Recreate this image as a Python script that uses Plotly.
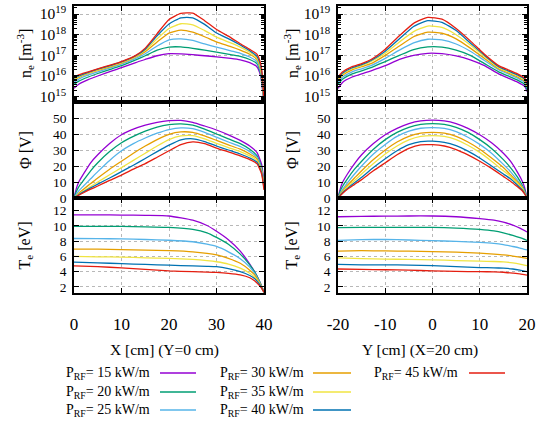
import plotly.graph_objects as go

# ---------------- data ----------------
power_labels = ["15", "20", "25", "30", "35", "40", "45"]
colors = ["#9400d3", "#009e73", "#56b4e9", "#e69f00", "#f0e442", "#0072b2", "#e51e10"]

# n_e vs X (log10 of m^-3)
x_ne = [0, 1, 3, 5, 8, 10, 13, 15, 17.5, 20, 22.5, 25, 27.5, 30, 33, 35, 37, 38.5, 39.3, 39.7, 40]
ne_x_log10 = {
    "15": [15.4, 15.6, 15.82, 16.0, 16.25, 16.4, 16.65, 16.8, 16.98, 17.08, 17.07, 17.03, 16.98, 16.93, 16.85, 16.78, 16.65, 16.45, 16.0, 15.3, 14.8],
    "20": [15.6, 15.75, 15.95, 16.12, 16.35, 16.5, 16.78, 16.98, 17.25, 17.4, 17.41, 17.34, 17.25, 17.16, 17.03, 16.95, 16.8, 16.6, 16.1, 15.4, 14.8],
    "25": [15.7, 15.85, 16.05, 16.2, 16.42, 16.57, 16.85, 17.08, 17.45, 17.75, 17.8, 17.72, 17.55, 17.4, 17.22, 17.1, 16.92, 16.7, 16.2, 15.5, 14.8],
    "30": [15.8, 15.93, 16.12, 16.27, 16.47, 16.62, 16.92, 17.18, 17.65, 18.08, 18.22, 18.12, 17.9, 17.65, 17.42, 17.25, 17.05, 16.8, 16.3, 15.6, 14.8],
    "35": [15.85, 15.97, 16.15, 16.3, 16.5, 16.65, 16.95, 17.25, 17.8, 18.3, 18.53, 18.48, 18.2, 17.88, 17.6, 17.4, 17.15, 16.88, 16.4, 15.7, 14.8],
    "40": [15.9, 16.0, 16.18, 16.33, 16.53, 16.68, 16.98, 17.3, 17.95, 18.52, 18.82, 18.82, 18.5, 18.08, 17.75, 17.5, 17.22, 16.95, 16.5, 15.8, 14.8],
    "45": [15.95, 16.05, 16.2, 16.35, 16.55, 16.7, 17.0, 17.35, 18.05, 18.74, 19.03, 19.05, 18.68, 18.25, 17.86, 17.56, 17.29, 17.06, 16.6, 15.9, 14.8],
}

# n_e vs Y
y_ne = [-20, -19, -17, -15, -13, -10, -7, -4, -1, 2, 5, 8, 11, 14, 16, 18, 19.5, 20]
ne_y_log10 = {
    "15": [15.4, 15.7, 15.95, 16.1, 16.25, 16.5, 16.8, 17.0, 17.1, 17.08, 16.97, 16.78, 16.5, 16.1, 15.9, 15.7, 15.5, 15.25],
    "20": [15.6, 15.85, 16.1, 16.25, 16.4, 16.7, 17.0, 17.28, 17.41, 17.4, 17.25, 17.0, 16.6, 16.2, 16.0, 15.8, 15.6, 15.35],
    "25": [15.7, 15.95, 16.2, 16.35, 16.5, 16.85, 17.25, 17.6, 17.78, 17.75, 17.55, 17.2, 16.75, 16.3, 16.1, 15.9, 15.7, 15.45],
    "30": [15.8, 16.05, 16.3, 16.45, 16.6, 17.0, 17.45, 17.9, 18.12, 18.07, 17.8, 17.35, 16.85, 16.35, 16.15, 15.95, 15.75, 15.5],
    "35": [15.85, 16.1, 16.35, 16.5, 16.7, 17.1, 17.65, 18.15, 18.42, 18.35, 18.0, 17.5, 16.95, 16.4, 16.2, 16.0, 15.8, 15.55],
    "40": [15.9, 16.15, 16.4, 16.55, 16.75, 17.2, 17.8, 18.4, 18.68, 18.6, 18.2, 17.6, 17.0, 16.45, 16.25, 16.05, 15.85, 15.6],
    "45": [15.95, 16.2, 16.45, 16.6, 16.8, 17.3, 17.95, 18.55, 18.84, 18.75, 18.3, 17.7, 17.05, 16.5, 16.3, 16.1, 15.9, 15.65],
}

# Phi vs X (V)
x_phi = [0, 0.5, 1, 2, 3.5, 5, 7.5, 10, 12.5, 15, 17.5, 20, 22.5, 25, 27.5, 30, 32.5, 35, 37, 38.5, 39.5, 40]
phi_x = {
    "15": [0, 6, 10, 15, 22, 27, 34, 39.5, 43, 45.5, 47.3, 48.3, 48.5, 47.3, 45, 42.5, 39.5, 36, 32.5, 28.5, 21, 9],
    "20": [0, 4, 7, 11, 17, 22, 29, 34.5, 38.5, 41.8, 44.3, 45.8, 46.3, 45.5, 43, 40, 37, 34, 30.5, 26.5, 19, 8],
    "25": [0, 2.5, 4.5, 7.5, 12, 16.5, 23.5, 29.5, 34, 37.5, 40.5, 42.8, 43.8, 43.3, 41, 38, 35, 32.2, 29, 25.5, 18, 7.5],
    "30": [0, 1.5, 3, 5.5, 9, 12.5, 18, 23, 28, 32.5, 36.5, 39.8, 41.3, 41, 38.8, 36, 33.2, 30.5, 27.5, 24.5, 17, 7],
    "35": [0, 1.2, 2.3, 4.3, 7.2, 10, 14.5, 19, 23.5, 28, 32.5, 36.5, 38.8, 39, 37, 34.2, 31.5, 29, 26.3, 23.5, 16.5, 6.5],
    "40": [0, 1, 2, 3.8, 6.3, 8.7, 12.5, 16.5, 20.5, 24.7, 29, 33, 36.3, 37, 35.3, 32.5, 30, 27.5, 25, 22.5, 16, 6],
    "45": [0, 0.8, 1.7, 3.3, 5.5, 7.5, 11, 14.3, 18, 21.5, 25.5, 29.5, 33.3, 35.1, 34, 31.2, 28.8, 26.3, 24, 21.5, 15, 5],
}

# Phi vs Y (V)
y_phi = [-20, -19.5, -19, -18, -16.5, -15, -12.5, -10, -7.5, -5, -2.5, 0, 2.5, 5, 7.5, 10, 12.5, 15, 16.5, 18, 19, 19.5, 20]
phi_y = {
    "15": [0, 6, 10, 15, 21.5, 27, 34, 39.5, 43.5, 46.5, 48.2, 48.7, 48.2, 46.5, 43.5, 39.5, 34.5, 28, 23, 16, 10.5, 6.5, 0],
    "20": [0, 4.5, 7.5, 12, 18, 23, 30.5, 36.5, 41, 44.2, 46, 46.5, 46, 44.2, 41, 36.5, 31, 24, 19, 13, 8, 5, 0],
    "25": [0, 3, 5.5, 9.5, 15, 20, 27.5, 33.5, 38.5, 41.8, 43.6, 44, 43.5, 41.5, 38, 33.5, 28, 21, 16.5, 11, 7, 4, 0],
    "30": [0, 2.5, 4.5, 8, 12.5, 17, 24, 30, 35, 38.5, 40.5, 41, 40.5, 38.5, 35, 30.5, 25, 19, 14.5, 10, 6.5, 3.5, 0],
    "35": [0, 2, 4, 7, 11, 15, 21.5, 27.5, 32.5, 36.3, 38.5, 39, 38.5, 36.5, 33, 28.5, 23, 17, 13.5, 9, 6, 3, 0],
    "40": [0, 1.8, 3.5, 6, 9.5, 13, 19, 24.5, 29.5, 33.3, 35.3, 35.5, 34.8, 32.7, 29.3, 25, 20, 15, 12, 8, 5, 2.8, 0],
    "45": [0, 1.5, 3, 5.5, 8.5, 11.5, 17, 22, 27, 31, 33.2, 33.3, 32.5, 30.3, 27, 23, 18.5, 13.5, 10.5, 7, 4.5, 2.5, 0],
}

# Te vs X (eV)
x_te = [0, 5, 10, 15, 20, 25, 28, 30, 32.5, 35, 37, 38, 39, 39.5, 40]
te_x = {
    "15": [11.45, 11.45, 11.42, 11.38, 11.3, 10.75, 10.05, 9.3, 8.2, 6.7, 5.0, 4.0, 2.8, 2.1, 1.3],
    "20": [9.95, 9.95, 9.93, 9.88, 9.8, 9.55, 9.1, 8.5, 7.6, 6.3, 4.9, 4.0, 2.8, 2.1, 1.3],
    "25": [8.35, 8.33, 8.3, 8.22, 8.12, 7.92, 7.6, 7.3, 6.6, 5.7, 4.6, 3.8, 2.7, 2.0, 1.3],
    "30": [6.95, 6.95, 6.9, 6.83, 6.75, 6.6, 6.4, 6.2, 5.75, 5.1, 4.2, 3.6, 2.6, 2.0, 1.3],
    "35": [6.0, 5.95, 5.9, 5.82, 5.75, 5.6, 5.45, 5.3, 5.0, 4.45, 3.8, 3.3, 2.5, 1.9, 1.3],
    "40": [5.25, 5.15, 5.05, 4.95, 4.85, 4.75, 4.7, 4.65, 4.4, 4.0, 3.5, 3.1, 2.4, 1.9, 1.3],
    "45": [4.75, 4.65, 4.5, 4.3, 4.1, 4.0, 3.95, 3.9, 3.78, 3.57, 3.2, 2.8, 2.2, 1.8, 1.3],
}

# Te vs Y (eV)
y_te = [-20, -15, -10, -5, 0, 5, 10, 13, 15, 17, 18.5, 20]
te_y = {
    "15": [11.2, 11.25, 11.28, 11.3, 11.3, 11.2, 10.95, 10.75, 10.5, 10.1, 9.7, 9.2],
    "20": [9.77, 9.8, 9.8, 9.8, 9.8, 9.72, 9.55, 9.35, 9.1, 8.75, 8.45, 8.1],
    "25": [8.1, 8.2, 8.22, 8.15, 8.07, 7.97, 7.85, 7.72, 7.55, 7.3, 7.1, 6.85],
    "30": [6.7, 6.75, 6.72, 6.68, 6.63, 6.55, 6.42, 6.3, 6.2, 6.05, 5.9, 5.75],
    "35": [5.8, 5.72, 5.65, 5.6, 5.55, 5.45, 5.38, 5.33, 5.28, 5.15, 5.0, 4.8],
    "40": [4.95, 4.9, 4.9, 4.85, 4.78, 4.65, 4.53, 4.5, 4.45, 4.35, 4.2, 4.0],
    "45": [4.35, 4.3, 4.25, 4.2, 4.1, 4.03, 4.0, 3.97, 3.92, 3.8, 3.7, 3.55],
}

x_ticks = [0, 10, 20, 30, 40]
x_ticktext = ["0", "10", "20", "30", "40"]
y_ticks_pos = [-20, -10, 0, 10, 20]
y_ticktext = ["-20", "-10", "0", "10", "20"]
phi_ticks = [0, 10, 20, 30, 40, 50]
te_ticks = [2, 4, 6, 8, 10, 12]
ne_ticks_exp = [15, 16, 17, 18, 19]

# ---------------- figure ----------------
W, H = 538, 421
FONT = "Liberation Serif, Times New Roman, DejaVu Serif, serif"

def px_x(p):
    return p / W

def px_y(p):
    return 1 - p / H

fig = go.Figure()

panels = [
    ("x", "y", x_ne, ne_x_log10, True),
    ("x2", "y2", y_ne, ne_y_log10, True),
    ("x3", "y3", x_phi, phi_x, False),
    ("x4", "y4", y_phi, phi_y, False),
    ("x5", "y5", x_te, te_x, False),
    ("x6", "y6", y_te, te_y, False),
]
for xa, ya, xs, data, is_log in panels:
    for lab, col in zip(power_labels, colors):
        vals = data[lab]
        if is_log:
            vals = [10.0 ** v for v in vals]
        fig.add_trace(go.Scatter(
            x=xs, y=vals, mode="lines", xaxis=xa, yaxis=ya,
            line=dict(color=col, width=1.3, shape="spline", smoothing=0.5),
            showlegend=False, hoverinfo="skip"))

xL = [px_x(74), px_x(264)]
xR = [px_x(338), px_x(527)]
yT = [px_y(102), px_y(6)]
yM = [px_y(198), px_y(102)]
yB = [px_y(293), px_y(198)]

common = dict(showline=True, linecolor="black", linewidth=1.6, mirror="allticks",
              ticks="inside", ticklen=5, tickwidth=1, tickcolor="black",
              showgrid=True, gridcolor="#b8b8b8", griddash="dot", gridwidth=1,
              zeroline=False, automargin=False,
              tickfont=dict(family=FONT, size=13.5, color="black"))

def xax(dom, anchor, vals, text, labels):
    d = dict(common)
    d.update(domain=dom, anchor=anchor, tickmode="array", tickvals=vals, ticktext=text,
             range=[vals[0], vals[-1]])
    if labels:
        d.update(showticklabels=True, tickfont=dict(family=FONT, size=17, color="black"),
                 ticklabelstandoff=15)
    else:
        d.update(showticklabels=False)
    return d

def yax(dom, anchor, **kw):
    d = dict(common)
    d.update(domain=dom, anchor=anchor, ticklabelstandoff=3)
    d.update(kw)
    return d

ne_axis = dict(type="log", range=[14.74, 19.39], tickmode="array",
               tickvals=[10.0 ** e for e in ne_ticks_exp],
               ticktext=[f"10<sup>{e}</sup>" for e in ne_ticks_exp],
               tickfont=dict(family=FONT, size=15.5, color="black"),
               minor=dict(ticks="inside", ticklen=3, tickcolor="black",
                          tickvals=[m * 10.0 ** e for e in range(14, 20) for m in range(2, 10)],
                          showgrid=False))
phi_axis = dict(range=[0, 60], tickmode="array", tickvals=phi_ticks)
te_axis = dict(range=[1.2, 13.66], tickmode="array", tickvals=te_ticks)

fig.update_layout(
    width=W, height=H, margin=dict(l=0, r=0, t=0, b=0, autoexpand=False),
    paper_bgcolor="white", plot_bgcolor="white", showlegend=False,
    font=dict(family=FONT, color="black"),
    xaxis=xax(xL, "y", x_ticks, x_ticktext, False),
    xaxis2=xax(xR, "y2", y_ticks_pos, y_ticktext, False),
    xaxis3=xax(xL, "y3", x_ticks, x_ticktext, False),
    xaxis4=xax(xR, "y4", y_ticks_pos, y_ticktext, False),
    xaxis5=xax(xL, "y5", x_ticks, x_ticktext, True),
    xaxis6=xax(xR, "y6", y_ticks_pos, y_ticktext, True),
    yaxis=yax(yT, "x", **ne_axis),
    yaxis2=yax(yT, "x2", **ne_axis),
    yaxis3=yax(yM, "x3", **phi_axis),
    yaxis4=yax(yM, "x4", **phi_axis),
    yaxis5=yax(yB, "x5", **te_axis),
    yaxis6=yax(yB, "x6", **te_axis),
)

ann = []
ytitles = ["n<sub>e</sub> [m<sup>-3</sup>]", "Φ [V]", "T<sub>e</sub> [eV]"]
ycent = [54, 150, 245.5]
for t, yc in zip(ytitles, ycent):
    for xc in (25, 292):
        ann.append(dict(text=t, x=px_x(xc), y=px_y(yc), xref="paper", yref="paper",
                        textangle=-90, showarrow=False, xanchor="center", yanchor="middle",
                        font=dict(family=FONT, size=16, color="black")))
ann.append(dict(text="X [cm] (Y=0 cm)", x=px_x(164), y=px_y(350), xref="paper", yref="paper",
                showarrow=False, xanchor="center", yanchor="middle",
                font=dict(family=FONT, size=15.5, color="black")))
ann.append(dict(text="Y [cm] (X=20 cm)", x=px_x(420), y=px_y(350), xref="paper", yref="paper",
                showarrow=False, xanchor="center", yanchor="middle",
                font=dict(family=FONT, size=15.5, color="black")))

# legend (text followed by a line sample), 3 columns
col_text_right = [152, 306, 460]
col_line = [(160, 196), (313, 351), (469, 505)]
row_y = [373, 392, 410]
shapes = []
for i, (lab, col) in enumerate(zip(power_labels, colors)):
    c, r = divmod(i, 3)
    yy = px_y(row_y[r])
    ann.append(dict(text=f"P<sub>RF</sub>= {lab} kW/m", x=px_x(col_text_right[c]), y=yy,
                    xref="paper", yref="paper", showarrow=False, xanchor="right",
                    yanchor="middle", font=dict(family=FONT, size=14, color="black")))
    shapes.append(dict(type="line", xref="paper", yref="paper",
                       x0=px_x(col_line[c][0]), x1=px_x(col_line[c][1]), y0=yy, y1=yy,
                       line=dict(color=col, width=1.5)))

fig.update_layout(annotations=ann, shapes=shapes)
fig.write_html("out.html")
